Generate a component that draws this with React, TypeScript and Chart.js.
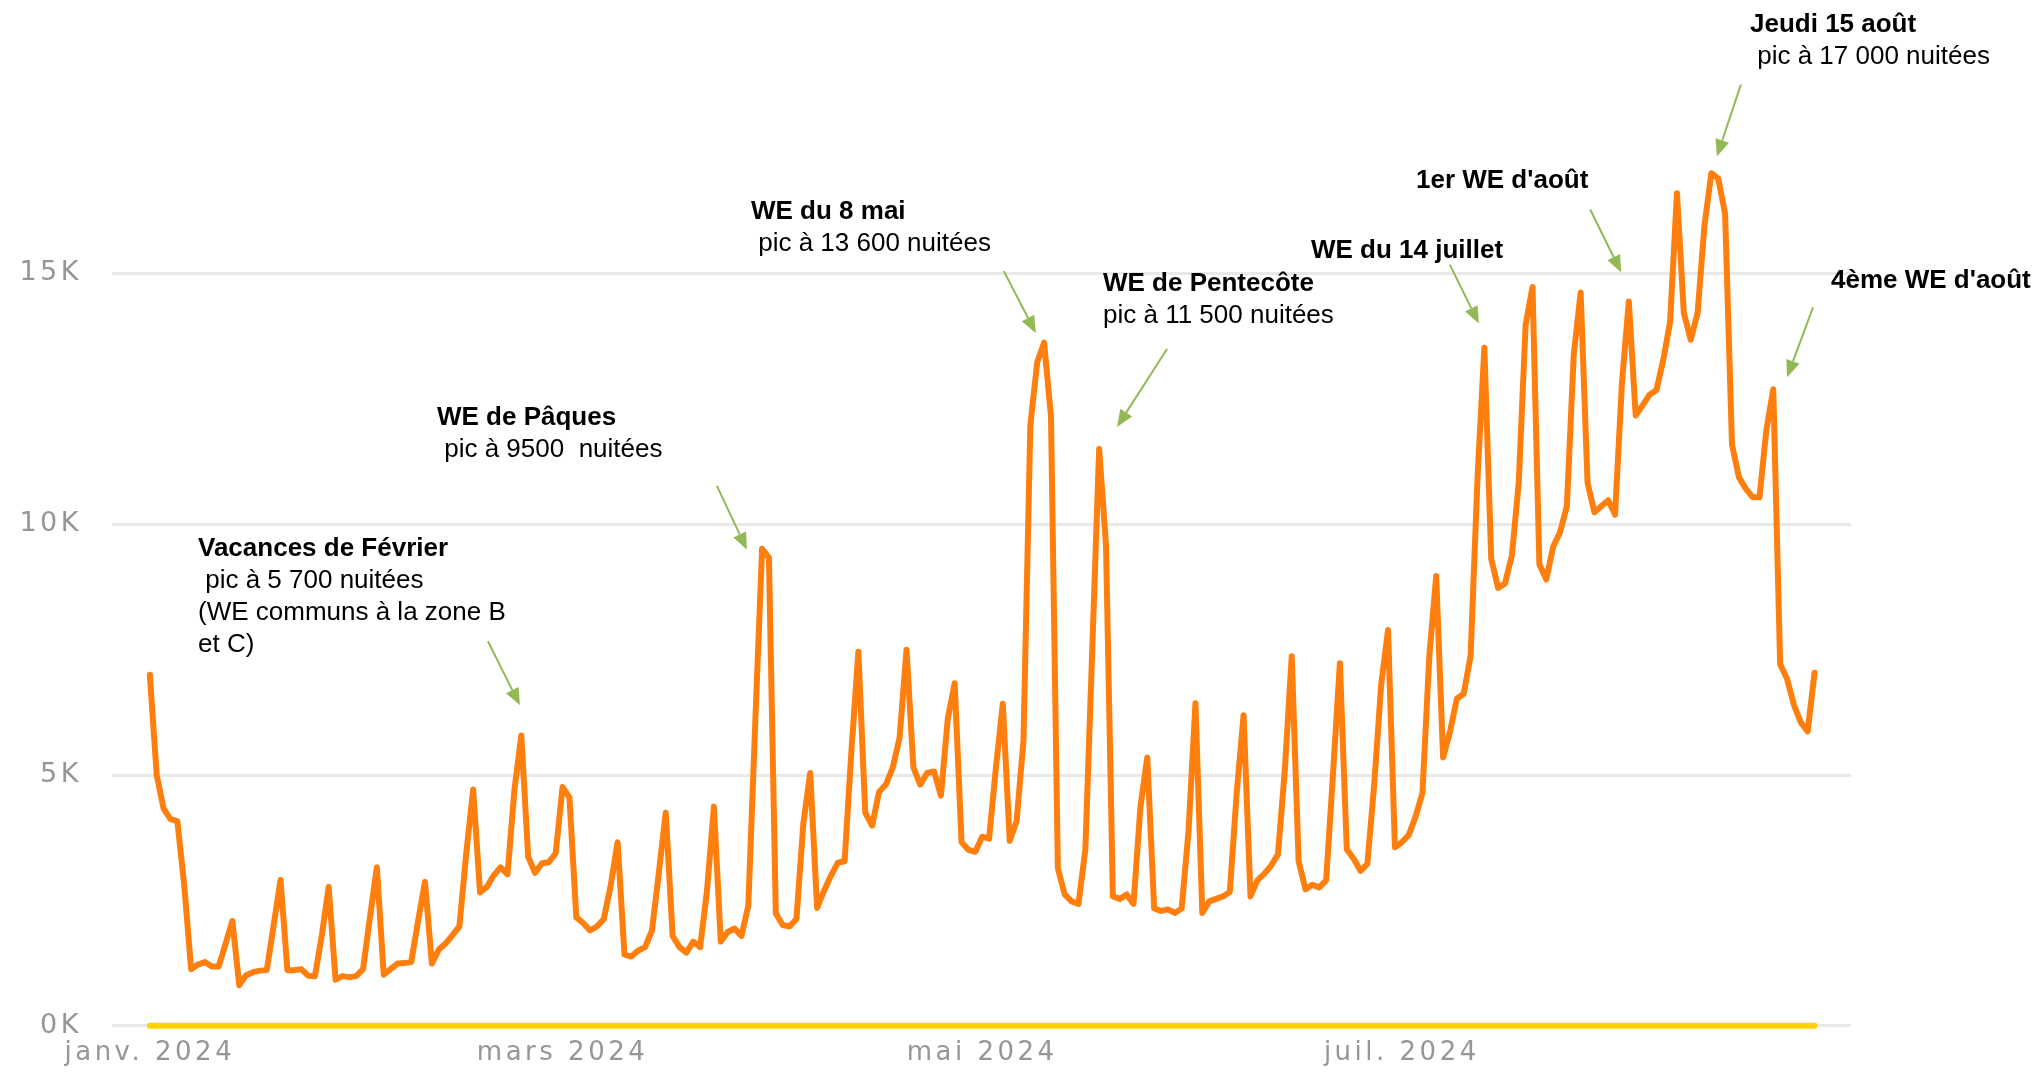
import { useEffect, useRef } from 'react';
import { Chart, registerables } from 'chart.js';

Chart.register(...registerables);

// Daily series, one value per day starting 2024-01-01 (day 0) to 2024-08-30 (day 242)
const startDate = '2024-01-01';
const nuitees: number[] = [
  7000, 5000, 4330, 4120, 4080, 2800, 1130, 1220, 1270, 1180,
  1180, 1630, 2090, 810, 1010, 1070, 1100, 1110, 2000, 2910,
  1110, 1110, 1130, 1000, 990, 1800, 2770, 920, 990, 970,
  990, 1130, 2160, 3160, 1020, 1130, 1240, 1250, 1270, 2090,
  2870, 1240, 1520, 1640, 1810, 1980, 3440, 4710, 2660, 2770,
  3000, 3160, 3020, 4700, 5790, 3370, 3050, 3240, 3260, 3440,
  4760, 4550, 2160, 2050, 1900, 1980, 2130, 2800, 3660, 1420,
  1380, 1500, 1570, 1900, 3060, 4250, 1790, 1570, 1460, 1680,
  1570, 2700, 4370, 1680, 1870, 1940, 1790, 2390, 6000, 9510,
  9330, 2240, 2010, 1980, 2130, 4030, 5040, 2350, 2690, 2990,
  3250, 3280, 5500, 7460, 4250, 3990, 4660, 4810, 5150, 5750,
  7500, 5150, 4810, 5040, 5070, 4590, 6120, 6830, 3660, 3510,
  3470, 3770, 3730, 5150, 6420, 3690, 4080, 5680, 11970, 13230,
  13620, 12160, 3140, 2620, 2480, 2430, 3520, 7500, 11500, 9580,
  2580, 2530, 2620, 2430, 4360, 5350, 2340, 2290, 2320, 2250,
  2340, 3890, 6430, 2250, 2480, 2530, 2580, 2670, 4640, 6190,
  2580, 2900, 3030, 3190, 3420, 5110, 7370, 3280, 2720, 2810,
  2760, 2900, 5020, 7230, 3520, 3330, 3090, 3230, 4830, 6800,
  7890, 3560, 3660, 3800, 4170, 4640, 7370, 8970, 5350, 5860,
  6520, 6620, 7370, 10900, 13520, 9310, 8730, 8820, 9370, 10830,
  13970, 14730, 9200, 8900, 9550, 9840, 10360, 13390, 14620, 10830,
  10240, 10360, 10480, 10190, 12810, 14440, 12170, 12370, 12580, 12670,
  13270, 14030, 16600, 14210, 13680, 14210, 15960, 17000, 16890, 16190,
  11590, 10940, 10710, 10540, 10540, 11880, 12690, 7210, 6920, 6400,
  6050, 5870, 7040,
];

// Second (yellow) series: flat at zero over the whole period (first day, last day)
const baselineDays = [0, 242];
const baselineValues = [0, 0];

const tickDays = [0, 60, 121, 182];
const tickLabels = ['janv. 2024', 'mars 2024', 'mai 2024', 'juil. 2024'];
const yTicks = [0, 5000, 10000, 15000];

type Annotation = {
  title: string;
  lines: string[];
  x: number;
  y: number;
  tip: [number, number]; // [day, value] the arrow points to
  tail: [number, number]; // pixel offset of arrow start from tip
};

const annotations: Annotation[] = [
  { title: 'Vacances de Février', lines: [' pic à 5 700 nuitées', '(WE communs à la zone B', 'et C)'], x: 198, y: 556, tip: [53.8, 6390], tail: [-32, -64] },
  { title: 'WE de Pâques', lines: [' pic à 9500  nuitées'], x: 437, y: 425, tip: [86.8, 9490], tail: [-30, -64] },
  { title: 'WE du 8 mai', lines: [' pic à 13 600 nuitées'], x: 751, y: 219, tip: [128.8, 13810], tail: [-32, -62] },
  { title: 'WE de Pentecôte', lines: ['pic à 11 500 nuitées'], x: 1103, y: 291, tip: [140.6, 11940], tail: [50, -78] },
  { title: 'WE du 14 juillet', lines: [], x: 1311, y: 258, tip: [193.2, 14000], tail: [-29, -59] },
  { title: "1er WE d'août", lines: [], x: 1416, y: 188, tip: [213.9, 15020], tail: [-31, -63] },
  { title: 'Jeudi 15 août', lines: [' pic à 17 000 nuitées'], x: 1750, y: 32, tip: [227.8, 17330], tail: [24, -72] },
  { title: "4ème WE d'août", lines: [], x: 1831, y: 288, tip: [238.0, 12930], tail: [26, -70] },
];

const ORANGE = '#FF7F0E';
const YELLOW = '#FFD200';
const GREEN = '#93B955';
const AXIS_GREY = '#969696';

const annotationPlugin = {
  id: 'peakAnnotations',
  beforeDraw(chart: any) {
    chart.ctx.letterSpacing = '3.5px';
  },
  afterDraw(chart: any) {
    const ctx = chart.ctx as CanvasRenderingContext2D;
    const xs = chart.scales.x;
    const ys = chart.scales.y;
    ctx.save();
    (ctx as any).letterSpacing = '0px';
    for (const a of annotations) {
      ctx.fillStyle = '#000';
      ctx.textAlign = 'left';
      ctx.textBaseline = 'alphabetic';
      ctx.font = 'bold 26px "Liberation Sans", Arial, sans-serif';
      ctx.fillText(a.title, a.x, a.y);
      ctx.font = '26px "Liberation Sans", Arial, sans-serif';
      a.lines.forEach((l, i) => ctx.fillText(l, a.x, a.y + 32 * (i + 1)));

      const tx = xs.getPixelForValue(a.tip[0]);
      const ty = ys.getPixelForValue(a.tip[1]);
      const sx = tx + a.tail[0];
      const sy = ty + a.tail[1];
      const ang = Math.atan2(ty - sy, tx - sx);
      const hl = 17;
      const hw = 7;
      const bx = tx - hl * Math.cos(ang);
      const by = ty - hl * Math.sin(ang);
      ctx.strokeStyle = GREEN;
      ctx.lineWidth = 2;
      ctx.beginPath();
      ctx.moveTo(sx, sy);
      ctx.lineTo(bx, by);
      ctx.stroke();
      ctx.fillStyle = GREEN;
      ctx.beginPath();
      ctx.moveTo(tx, ty);
      ctx.lineTo(bx - hw * Math.sin(ang), by + hw * Math.cos(ang));
      ctx.lineTo(bx + hw * Math.sin(ang), by - hw * Math.cos(ang));
      ctx.closePath();
      ctx.fill();
    }
    ctx.restore();
  },
};

export default function App() {
  const ref = useRef<HTMLCanvasElement>(null);

  useEffect(() => {
    if (!ref.current) return;
    const mainData = nuitees.map((v, i) => ({ x: i, y: v }));
    const baseData = baselineDays.map((d, i) => ({ x: d, y: baselineValues[i] }));
    const chart = new Chart(ref.current, {
      type: 'line',
      data: {
        datasets: [
          {
            label: `Nuitées depuis ${startDate}`,
            data: mainData,
            borderColor: ORANGE,
            borderWidth: 6,
            borderJoinStyle: 'round',
            borderCapStyle: 'round',
            pointRadius: 0,
            tension: 0,
            fill: false,
            order: 1,
          },
          {
            label: 'Référence',
            data: baseData,
            borderColor: YELLOW,
            borderWidth: 6,
            borderCapStyle: 'round',
            pointRadius: 0,
            tension: 0,
            fill: false,
            clip: false,
            order: 2,
          },
        ],
      },
      options: {
        animation: false,
        responsive: false,
        maintainAspectRatio: false,
        layout: { padding: { top: 123, right: 189, left: 0, bottom: 0 } },
        plugins: {
          legend: { display: false },
          tooltip: { enabled: false },
        },
        scales: {
          x: {
            type: 'linear',
            min: -5.5,
            max: 247.3,
            grid: { display: false, drawTicks: false },
            border: { display: false },
            afterBuildTicks: (s: any) => {
              s.ticks = tickDays.map((v) => ({ value: v }));
            },
            afterFit: (s: any) => {
              s.height = 44;
            },
            ticks: {
              autoSkip: false,
              maxRotation: 0,
              minRotation: 0,
              padding: 12,
              color: AXIS_GREY,
              font: { family: '"DejaVu Sans", sans-serif', size: 26 },
              callback: (v: any) => {
                const i = tickDays.indexOf(Number(v));
                return i >= 0 ? tickLabels[i] : '';
              },
            },
          },
          y: {
            min: 0,
            max: 18000,
            grid: { color: '#e9e9e9', lineWidth: 3, drawTicks: false },
            border: { display: false },
            afterBuildTicks: (s: any) => {
              s.ticks = yTicks.map((v) => ({ value: v }));
            },
            afterFit: (s: any) => {
              s.width = 112;
            },
            ticks: {
              padding: 30,
              color: AXIS_GREY,
              font: { family: '"DejaVu Sans", sans-serif', size: 27 },
              callback: (v: any) => `${Number(v) / 1000}K`,
            },
          },
        },
      },
      plugins: [annotationPlugin],
    } as any);
    return () => chart.destroy();
  }, []);

  return (
    <div style={{ position: 'absolute', left: 0, top: 0, width: 2040, height: 1072, background: '#fff' }}>
      <canvas ref={ref} width={2040} height={1072} style={{ display: 'block' }} />
    </div>
  );
}
